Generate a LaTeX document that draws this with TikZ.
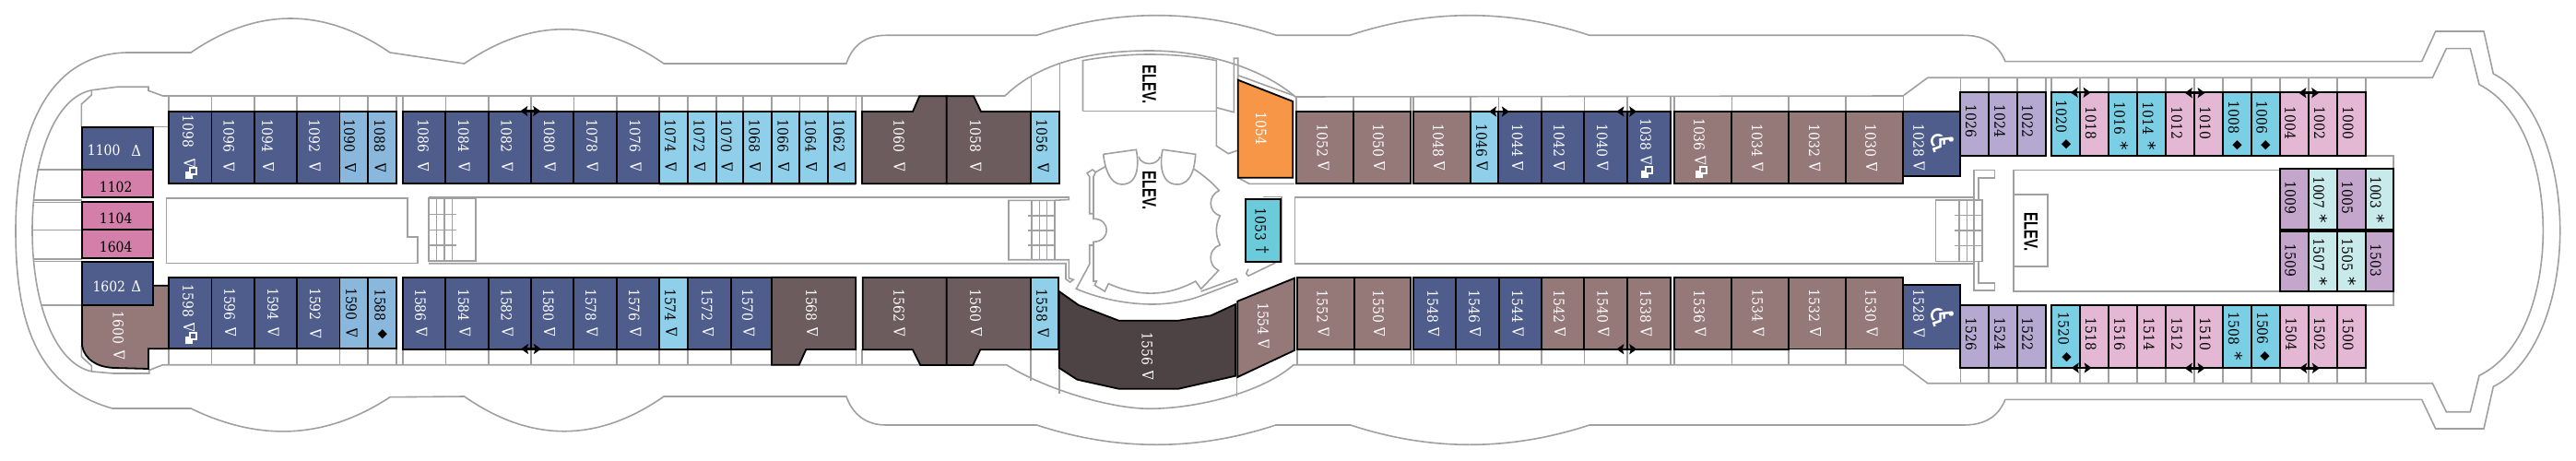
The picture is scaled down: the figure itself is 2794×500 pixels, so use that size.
\documentclass[tikz,border=0pt]{standalone}
\usepackage{fontspec}
\usetikzlibrary{arrows.meta}
\setmainfont[FakeStretch=0.9]{DejaVu Serif}
\newfontfamily\dejav{DejaVu Sans}
\newfontfamily\elevf[FakeStretch=0.71]{Liberation Sans}
\definecolor{navy}{HTML}{4E5D8C}
\definecolor{blueA}{HTML}{8AB8DC}
\definecolor{skyB}{HTML}{90CFE9}
\definecolor{taupe}{HTML}{6D5C5D}
\definecolor{darkT}{HTML}{4E4344}
\definecolor{rose}{HTML}{957878}
\definecolor{orangeC}{HTML}{F79646}
\definecolor{tealC}{HTML}{6CCBDA}
\definecolor{lav}{HTML}{B5A9D1}
\definecolor{pinkC}{HTML}{E4B7D4}
\definecolor{cyanC}{HTML}{7BCFE4}
\definecolor{paleC}{HTML}{C8EAEA}
\definecolor{purpC}{HTML}{C4A6CD}
\definecolor{magC}{HTML}{D37FA9}
\definecolor{railC}{HTML}{A0A0A3}
\tikzset{
 rail/.style={draw=railC,line width=1.6pt,line join=miter},
 roomb/.style={draw=black,line width=1.8pt,line join=miter},
 roomn/.style={roomb,inner sep=0pt,outer sep=0pt},
 numf/.style={inner sep=0pt,font=\fontsize{15.5}{15.5}\selectfont},
 vnum/.style={numf,rotate=-90},
 trif/.style={inner sep=0pt,font=\fontsize{16.5}{16.5}\selectfont,rotate=90},
 htrif/.style={inner sep=0pt,font=\fontsize{16.5}{16.5}\selectfont},
 diaf/.style={inner sep=0pt,font=\dejav\fontsize{13.5}{13.5}\selectfont,rotate=-90},
 astf/.style={inner sep=0pt,font=\dejav\fontsize{19}{19}\selectfont,rotate=-90},
 wheelf/.style={inner sep=0pt,font=\dejav\fontsize{34}{34}\selectfont,rotate=-90,text=white},
 elevn/.style={inner sep=0pt,rotate=-90,font=\elevf\bfseries\fontsize{21}{21}\selectfont},
 dblar/.style={line width=2.4pt,{Stealth[length=8pt,width=11pt,inset=1.5pt]}-{Stealth[length=8pt,width=11pt,inset=1.5pt]}},
}
% num, x1, x2, y1, y2, fill, text colour, label x, label y
\newcommand{\mybox}[6]{%
 \node[roomn,fill=#6,minimum width={(#3)-(#2)},minimum height={(#5)-(#4)}] (r#1) at ({((#2)+(#3))/2},{((#4)+(#5))/2}) {};}
\newcommand{\mycab}[9]{\mybox{#1}{#2}{#3}{#4}{#5}{#6}%
 \node[vnum,text=#7] (n#1) at (#8,#9) {#1};}
\newcommand{\mylab}[4]{\node[vnum,text=#4] (n#1) at (#2,#3) {#1};}
\newcommand{\myhlab}[4]{\node[numf,text=#4] (n#1) at (#2,#3) {#1};}
\newcommand{\mytri}[4]{\node[trif,text=#4] (t#1) at (#2,#3) {Δ};}
\newcommand{\myhtri}[4]{\node[htrif,text=#4] (t#1) at (#2,#3) {Δ};}
\newcommand{\mydia}[4]{\node[diaf,text=#4] (d#1) at (#2,#3) {◆};}
\newcommand{\myast}[3]{\node[astf,text=black] (a#1) at ({(#2)-3},#3) {*};}
% x, y, cabin colour: two overlapping squares
\newcommand{\mysq}[3]{\fill[white] ({(#1)-6.5},{(#2)-2}) rectangle ({(#1)+1.5},{(#2)+6.5});
 \draw[white,fill=#3,line width=1.8pt] ({(#1)-1.5},{(#2)-5.5}) rectangle ({(#1)+5.5},{(#2)+1.5});}
\newcommand{\mydbl}[3]{\coordinate (dl#1) at ({(#2)-11},#3); \coordinate (dr#1) at ({(#2)+11},#3); \draw[dblar] (dl#1) -- (dr#1);}
\begin{document}
\begin{tikzpicture}[x=1pt,y=-1pt]
\useasboundingbox (0,0) rectangle (2794,500);
% ---------- outer hull
\draw[rail] (2626.7,66.7) -- (2175,66.7) .. controls (2170,55) and (2160,38.3) .. (2130,38.3)
 -- (1724,38.3) .. controls (1637,9.5) and (1551,9.5) .. (1463.8,38.3)
 -- (1384.7,38.3) .. controls (1298,9.5) and (1211,9.5) .. (1124.5,38.3)
 -- (961,38.3) .. controls (940,38.3) and (925,48) .. (917.9,69)
 -- (720,69) .. controls (648,19.3) and (575.7,19.3) .. (503.6,69)
 -- (423,57) .. controls (351,7.7) and (279,7.7) .. (207,57)
 -- (140,57) .. controls (60,57) and (17,130) .. (17,250)
 .. controls (17,350) and (40,420) .. (122,443)
 -- (207,443) .. controls (279,478) and (351,478) .. (423,430.7)
 -- (503.6,430) .. controls (575.7,480.3) and (648,480.3) .. (720,430)
 -- (917.9,430) .. controls (925,450) and (940,461) .. (961,461)
 -- (1124.5,461) .. controls (1211,489.4) and (1298,489.4) .. (1383.7,461)
 -- (1464.8,461) .. controls (1551,489.4) and (1637,489.4) .. (1724,461)
 -- (2130,461) .. controls (2160,461) and (2170,445) .. (2175,433.3)
 -- (2626.7,433.3) -- (2641.7,465) -- (2694,465) -- (2704.3,419.3)
 .. controls (2750,397) and (2776.7,325) .. (2776.7,250)
 .. controls (2776.7,175) and (2750,103) .. (2704.3,80)
 -- (2694,34) -- (2641.7,34) -- (2626.7,66.7);
% ---------- inner deck edge
\draw[rail] (2090.7,84.3) -- (2638.3,84.3) -- (2653.3,52.7) -- (2679.3,52.7) -- (2689,91.7)
 .. controls (2735,115) and (2758.3,180) .. (2758.3,250)
 .. controls (2758.3,320) and (2735,385) .. (2689,407.3)
 -- (2679.3,446.7) -- (2653.3,446.7) -- (2638.3,415.7) -- (2090.7,415.7) -- (2064,395.7)
 -- (1403,395.7) .. controls (1370,425) and (1300,443) .. (1247,443.3)
 .. controls (1200,443) and (1130,420) .. (1091.7,395.7)
 -- (176.7,395.7) -- (161.7,401.5) -- (161.7,405) -- (123,405) -- (100,403)
 .. controls (60,395) and (35,330) .. (35,250)
 .. controls (35,170) and (60,105) .. (100,97.7)
 -- (126.7,94.3) -- (161,94.3) -- (161,98.3) -- (176.7,104)
 -- (1090,104) .. controls (1130,65) and (1190,55) .. (1247,55)
 .. controls (1310,55) and (1370,75) .. (1405,105)
 -- (2064,104) -- (2090.7,84.3);
% ---------- aft details
\draw[rail] (99.3,98.3) -- (99.3,103) -- (88.3,113) -- (88.3,137.7);
\draw[rail] (88.3,375) -- (88.3,386.7) -- (99.3,396.7) -- (99.3,403);
\foreach \yy/\xx in {184/40,216.7/36,219.3/36,249.3/35,280.7/36,283.3/36,331/45}
 \draw[rail] (\xx,\yy) -- (89,\yy);
\draw[rail] (165.7,137.7) -- (183,137.7);
% ---------- corridor ticks
\foreach \xx in {183,229.5,276,322,368.5,399,430,436.7,483.3,529.7,576,622.3,668.7,715,745.7,776.7,806,836.7,867.3,898,928.3,935,1118.3,1149.3,1406,1468,1530,1532.7,1595,1625.3,1671.7,1718.3,1765,1811.7,1816,1878.3,1940,2002,2064.3}
 \draw[rail] (\xx,104) -- (\xx,121);
\foreach \xx in {183,229.5,276,322,368.5,399,430,436.7,483.3,529.7,576,622.3,668.7,715,745.7,792.7,837,928.3,935,1117.7,1406.7,1468.7,1530.3,1533.3,1579.3,1625.7,1671.7,1718.3,1765,1811.7,1816,1878.3,1940,2002,2064.3}
 \draw[rail] (\xx,379) -- (\xx,395.7);
\foreach \xx in {2126.3,2156.7,2187.7,2218.7,2225,2256,2287,2318,2349,2380,2411,2441.7,2472.7,2504,2534.7,2565.7}{
 \draw[rail] (\xx,84.3) -- (\xx,100.5);
 \draw[rail] (\xx,399) -- (\xx,415.7);}
\draw[rail] (715,199.8) -- (928.3,199.8);
% ---------- centre walls
\draw[rail] (1118.3,81.7) -- (1118.3,121);
\draw[rail] (1149.3,67.7) -- (1149.3,121);
\draw[rail] (1117.7,379.3) -- (1117.7,412.7);
\draw[rail] (1149,399) -- (1149,426.7);
\draw[rail,line width=1.1pt] (1341.7,409) -- (1341.7,430);
% ---------- corridor blocks
\draw[rail] (180.3,215) -- (441.7,215) -- (441.7,256.7) -- (452.7,256.7) -- (452.7,285.3) -- (180.3,285.3) -- cycle;
\draw[rail] (465,215) -- (516,215) -- (516,282.7) -- (465,282.7) -- cycle;
\draw[rail] (465,214) -- (1159.3,214) -- (1159.3,216.5) -- (1144,217.3);
\draw[rail] (465,285.7) -- (1156,285.7) -- (1156,302.7) -- (1160.7,306) -- (1164.3,303.3) -- (1159.3,301.7) -- (1159.3,281.7) -- (1094,281.7) -- (1094,217.3) -- (1144,217.3) -- (1144,281.7);
\foreach \xx in {473.3,482,490.3} \draw[rail,line width=1.3pt] (\xx,215) -- (\xx,282.7);
\foreach \yy in {232.7,249.3,266} \draw[rail,line width=1.3pt] (465,\yy) -- (495,\yy);
\foreach \xx in {1119,1127.3,1135.7} \draw[rail,line width=1.3pt] (\xx,217.3) -- (\xx,281.7);
\foreach \yy in {234,250,266} \draw[rail,line width=1.3pt] (1115,\yy) -- (1144,\yy);
\draw[rail] (1404.3,214) rectangle (2141,285.7);
\draw[rail] (2099.3,216.7) rectangle (2150,283.3);
\foreach \xx in {2125,2133.3,2141.7} \draw[rail,line width=1.3pt] (\xx,216.7) -- (\xx,283.3);
\foreach \yy in {233.3,250,266.7} \draw[rail,line width=1.3pt] (2120,\yy) -- (2150,\yy);
\draw[rail] (2141,215) -- (2141,184.3) -- (2163.3,184.3) -- (2163.3,192.7) -- (2146,192.7) -- (2146,216);
\draw[rail] (2141,283.3) -- (2141,315) -- (2163.3,315) -- (2163.3,306.7) -- (2146,306.7) -- (2146,283.3);
\draw[rail] (2595.7,183.3) -- (2595.7,168.7) -- (2565.7,168.7);
\draw[rail] (2595.7,316) -- (2595.7,331) -- (2565.7,331);
\draw[rail] (2472.7,184.3) -- (2184,184.3) -- (2184,316) -- (2472.7,316);
\draw[rail] (2184,211) rectangle (2221,288.7);
% ---------- elevator lobby fore
\draw[rail] (1174.5,120.7) -- (1174.5,65.7) .. controls (1200,61) and (1225,59) .. (1247,59)
 .. controls (1270,59) and (1295,61) .. (1319.4,65.7) -- (1319.4,158.3) -- (1332.3,166.7) -- (1341.7,163.3);
\draw[rail] (1174.5,120.7) -- (1319.4,120.7);
\draw[rail] (1319.4,116.7) -- (1338.3,121.7) -- (1338.3,63.3) -- (1342.7,63.3) -- (1342.7,86.7);
\draw[rail] (1342.7,81.7) -- (1404,104);
\draw[rail] (1342.7,192.7) -- (1355,199.3) -- (1404,199.3);
\draw[rail] (1370,213.3) -- (1390,213.3) -- (1390,285);
\draw[rail] (1383.3,285) -- (1354,299.3) -- (1351.7,296.7) -- (1354,291.7);
% ---------- atrium
\draw[rail] (1196.7,167.3) -- (1232.3,162.3) .. controls (1235,175) and (1236,200) .. (1216.7,200) .. controls (1203,200) and (1198,180) .. (1196.7,167.3);
\draw[rail] (1261,162.3) -- (1296.7,167.3) .. controls (1296,180) and (1293,200) .. (1276.7,200) .. controls (1258,200) and (1258,175) .. (1261,162.3);
\draw[rail] (1235,170) .. controls (1238,180) and (1255,180) .. (1258.3,170);
\draw[rail] (1199,180.7) -- (1188.3,186.7) -- (1185,184) -- (1179,187.7) -- (1181.7,191.7) -- (1181.7,231.7) -- (1186,231.7) -- (1186,191.7) -- (1188.3,186.7);
\draw[rail] (1186,231.7) -- (1186,237.3) .. controls (1205,237) and (1205,262) .. (1186,262.3) -- (1186,305) -- (1189.3,305) -- (1187.3,309.3) -- (1198.3,316) -- (1202.3,307.7)
 .. controls (1235,322) and (1265,322) .. (1296.7,305) -- (1302.7,313.3) -- (1321.7,293.3)
 .. controls (1310,288) and (1310,270) .. (1323.3,265.7) .. controls (1318,255) and (1318,245) .. (1323.3,234)
 .. controls (1310,230) and (1310,212) .. (1322.3,206.7) .. controls (1315,198) and (1305,190) .. (1295,183.3);
\draw[rail] (1186,266) -- (1181.7,266) -- (1181.7,286.7) -- (1167.3,313.3)
 .. controls (1195,325) and (1225,330) .. (1250,330) .. controls (1270,330) and (1290,326) .. (1305,320)
 -- (1342.3,305.7) -- (1340.7,302.3) -- (1302.7,316);
% ---------- aft block
\mybox{1100}{89}{165.7}{137.7}{184}{navy}
\myhlab{1100}{112.7}{163.3}{white}\myhtri{1100}{147.7}{163.3}{white}
\mybox{1102}{89}{165.7}{184}{214.3}{magC}\myhlab{1102}{125.7}{203.3}{black}
\mybox{1104}{89}{165.7}{219.3}{249.3}{magC}\myhlab{1104}{125.7}{237.3}{black}
\mybox{1604}{89}{165.7}{249.3}{280}{magC}\myhlab{1604}{125.7}{268.3}{black}
\draw[roomb,fill=rose] (89,330.7) -- (165.7,330.7) -- (165.7,309.7) -- (183,309.7) -- (183,378.3) -- (161,378.3) -- (161,400) -- (123.3,399) .. controls (105,398) and (92,390) .. (89,375) -- cycle;
\mylab{1600}{128.3}{355.7}{white}\mytri{1600}{129.3}{385}{white}
\mybox{1602}{89}{165.7}{284.3}{330.7}{navy}
\myhlab{1602}{118.3}{310.7}{white}\myhtri{1602}{147.7}{310}{white}
% ---------- top row, aft section
\mycab{1098}{183}{229.5}{121}{198.7}{navy}{white}{204}{142.5}\mytri{1098}{205.7}{176.7}{white}\mysq{207.3}{187.7}{navy}
\mycab{1096}{229.5}{276}{121}{198.7}{navy}{white}{248.3}{147.5}\mytri{1096}{248.3}{181}{white}
\mycab{1094}{276}{322}{121}{198.7}{navy}{white}{290}{147.5}\mytri{1094}{291}{181}{white}
\mycab{1092}{322}{368.5}{121}{198.7}{navy}{white}{341}{147.5}\mytri{1092}{341.7}{181}{white}
\mycab{1090}{368.5}{399}{121}{198.7}{blueA}{black}{379}{147.5}\mytri{1090}{380}{181.7}{black}
\mycab{1088}{399}{430}{121}{198.7}{blueA}{black}{411.7}{147.5}\mytri{1088}{412.7}{181.7}{black}
\mycab{1086}{436.7}{483.3}{121}{198.7}{navy}{white}{459}{147.5}\mytri{1086}{459}{180.7}{white}
\mycab{1084}{483.3}{529.7}{121}{198.7}{navy}{white}{502.7}{147.5}\mytri{1084}{503.7}{180.7}{white}
\mycab{1082}{529.7}{576}{121}{198.7}{navy}{white}{549.3}{147.5}\mytri{1082}{550.3}{180.7}{white}
\mycab{1080}{576}{622.3}{121}{198.7}{navy}{white}{595.7}{147.5}\mytri{1080}{596.7}{180.7}{white}
\mycab{1078}{622.3}{668.7}{121}{198.7}{navy}{white}{642}{147.5}\mytri{1078}{642.7}{180.7}{white}
\mycab{1076}{668.7}{715}{121}{198.7}{navy}{white}{688.7}{147.5}\mytri{1076}{689.7}{180.7}{white}
\mycab{1074}{715}{745.7}{121}{198.7}{skyB}{black}{727}{147.5}\mytri{1074}{727.7}{180.7}{black}
\mycab{1072}{745.7}{776.7}{121}{198.7}{skyB}{black}{758.3}{147.5}\mytri{1072}{759}{180.7}{black}
\mycab{1070}{776.7}{806}{121}{198.7}{skyB}{black}{787.7}{147.5}\mytri{1070}{788.7}{180.7}{black}
\mycab{1068}{806}{836.7}{121}{198.7}{skyB}{black}{818.3}{147.5}\mytri{1068}{819}{180.7}{black}
\mycab{1066}{836.7}{867.3}{121}{198.7}{skyB}{black}{849.3}{147.5}\mytri{1066}{850}{180.7}{black}
\mycab{1064}{867.3}{898}{121}{198.7}{skyB}{black}{879.3}{147.5}\mytri{1064}{880}{180.7}{black}
\mycab{1062}{898}{928.3}{121}{198.7}{skyB}{black}{910}{147.5}\mytri{1062}{910.7}{180.7}{black}
% ---------- top row, midship
\draw[roomb,fill=taupe] (935,121) -- (990,121) -- (997.3,104.3) -- (1026.7,104.3) -- (1026.7,199.3) -- (935,199.3) -- cycle;
\mylab{1060}{975}{147.3}{white}\mytri{1060}{975.7}{180.7}{white}
\draw[roomb,fill=taupe] (1026.7,104.3) -- (1056,104.3) -- (1064,121) -- (1118.3,121) -- (1118.3,199.3) -- (1026.7,199.3) -- cycle;
\mylab{1058}{1058}{147.3}{white}\mytri{1058}{1058.3}{180.7}{white}
\mycab{1056}{1118.3}{1149.3}{121}{199.3}{skyB}{black}{1130}{147.3}\mytri{1056}{1131.7}{181.7}{black}
\draw[roomb,fill=orangeC] (1342.7,86.7) -- (1402.3,110) -- (1402.3,192.7) -- (1342.7,192.7) -- cycle;
\mylab{1054}{1367.7}{139.3}{white}
\mycab{1053}{1350.7}{1389}{215.7}{284.3}{tealC}{black}{1367.3}{243.3}
\node[inner sep=0pt,rotate=-90,font=\fontsize{17}{17}\selectfont] (g1053) at (1369.3,271) {†};
\mycab{1052}{1406}{1468}{121}{198.7}{rose}{white}{1434.3}{152.5}\mytri{1052}{1435.7}{180}{white}
\mycab{1050}{1468}{1530}{121}{198.7}{rose}{white}{1495}{152.5}\mytri{1050}{1496}{180}{white}
\mycab{1048}{1532.7}{1595}{121}{198.7}{rose}{white}{1560}{152.5}\mytri{1048}{1561}{180}{white}
\mycab{1046}{1595}{1625.3}{121}{198.7}{skyB}{black}{1607}{152.5}\mytri{1046}{1607.7}{180}{black}
\mycab{1044}{1625.3}{1671.7}{121}{198.7}{navy}{white}{1645.7}{152.5}\mytri{1044}{1646}{180}{white}
\mycab{1042}{1671.7}{1718.3}{121}{198.7}{navy}{white}{1691}{152.5}\mytri{1042}{1691}{180}{white}
\mycab{1040}{1718.3}{1765}{121}{198.7}{navy}{white}{1737.7}{152.5}\mytri{1040}{1738.3}{180}{white}
\mycab{1038}{1765}{1811.7}{121}{198.7}{navy}{white}{1785}{146}\mytri{1038}{1785.7}{174}{white}\mysq{1786.7}{186.7}{navy}
\mycab{1036}{1816}{1878.3}{121}{198.7}{rose}{white}{1843}{146}\mytri{1036}{1844.3}{174}{white}\mysq{1845.3}{186.7}{rose}
\mycab{1034}{1878.3}{1940}{121}{198.7}{rose}{white}{1905.7}{152.5}\mytri{1034}{1906.3}{180.7}{white}
\mycab{1032}{1940}{2002}{121}{199.3}{rose}{white}{1967.7}{152.5}\mytri{1032}{1968.3}{180.7}{white}
\mycab{1030}{2002}{2064.3}{121}{199.3}{rose}{white}{2029}{152.5}\mytri{1030}{2030}{180.7}{white}
\mycab{1028}{2064.3}{2126.3}{121}{190.7}{navy}{white}{2081}{152.5}\mytri{1028}{2081.7}{180}{white}
\node[wheelf] (w1028) at (2106.7,156) {♿};
% ---------- top row, fore section
\mycab{1026}{2126.3}{2156.7}{100.3}{168.7}{lav}{black}{2137.7}{131.3}
\mycab{1024}{2156.7}{2187.7}{100.3}{168.7}{lav}{black}{2169}{131.3}
\mycab{1022}{2187.7}{2218.7}{100.3}{168.7}{lav}{black}{2199}{131.3}
\mycab{1020}{2225}{2256}{100.3}{168.7}{cyanC}{black}{2235.7}{126.7}\mydia{1020}{2241}{156.7}{black}
\mycab{1018}{2256}{2287}{100.3}{168.7}{pinkC}{black}{2267.7}{133.7}
\mycab{1016}{2287}{2318}{100.3}{168.7}{cyanC}{black}{2299}{128.2}\myast{1016}{2304.3}{158.3}
\mycab{1014}{2318}{2349}{100.3}{168.7}{cyanC}{black}{2329.7}{128.2}\myast{1014}{2335}{158.3}
\mycab{1012}{2349}{2380}{100.3}{168.7}{pinkC}{black}{2361}{133.3}
\mycab{1010}{2380}{2411}{100.3}{168.7}{pinkC}{black}{2391.7}{133.3}
\mycab{1008}{2411}{2441.7}{100.3}{168.7}{cyanC}{black}{2422.7}{127.3}\mydia{1008}{2426.7}{157.7}{black}
\mycab{1006}{2441.7}{2472.7}{100.3}{168.7}{cyanC}{black}{2453.3}{127.3}\mydia{1006}{2457.3}{157.7}{black}
\mycab{1004}{2472.7}{2504}{100.3}{168.7}{pinkC}{black}{2484}{133.3}
\mycab{1002}{2504}{2534.7}{100.3}{168.7}{pinkC}{black}{2515.7}{133.3}
\mycab{1000}{2534.7}{2565.7}{100.3}{168.7}{pinkC}{black}{2546.7}{133.3}
% ---------- inner fore block
\fill[black!60] (2472.7,248) rectangle (2595.7,252);
\mycab{1009}{2472.7}{2504}{183.3}{248.7}{purpC}{black}{2484.3}{214.3}
\mycab{1007}{2504}{2534.7}{183.3}{248.7}{paleC}{black}{2515}{209}\myast{1007}{2520.3}{237.3}
\mycab{1005}{2534.7}{2565.7}{183.3}{248.7}{purpC}{black}{2546}{214.3}
\mycab{1003}{2565.7}{2595.7}{183.3}{248.7}{paleC}{black}{2576.7}{209}\myast{1003}{2582.3}{237.3}
\mycab{1509}{2472.7}{2504}{251.3}{316}{purpC}{black}{2484.3}{282.3}
\mycab{1507}{2504}{2534.7}{251.3}{316}{paleC}{black}{2515}{276.7}\myast{1507}{2520.3}{305}
\mycab{1505}{2534.7}{2565.7}{251.3}{316}{paleC}{black}{2546}{276.7}\myast{1505}{2551.7}{305}
\mycab{1503}{2565.7}{2595.7}{251.3}{316}{purpC}{black}{2576.7}{282.3}
% ---------- bottom row, aft section
\mycab{1598}{183}{229.5}{301}{378.3}{navy}{white}{204}{326.7}\mytri{1598}{205}{355}{white}\mysq{207.3}{366.7}{navy}
\mycab{1596}{229.5}{276}{301}{378.3}{navy}{white}{249}{330}\mytri{1596}{250}{360}{white}
\mycab{1594}{276}{322}{301}{378.3}{navy}{white}{296}{330}\mytri{1594}{296.7}{360}{white}
\mycab{1592}{322}{368.5}{301}{378.3}{navy}{white}{341.7}{330}\mytri{1592}{342.3}{361.7}{white}
\mycab{1590}{368.5}{399}{301}{378.3}{blueA}{black}{381}{330}\mytri{1590}{381.7}{361}{black}
\mycab{1588}{399}{430}{301}{378.3}{blueA}{black}{412.3}{331}\mydia{1588}{415}{362.3}{black}
\mycab{1586}{436.7}{483.3}{301}{379}{navy}{white}{456}{331}\mytri{1586}{457.3}{360}{white}
\mycab{1584}{483.3}{529.7}{301}{379}{navy}{white}{502.7}{331}\mytri{1584}{504.3}{360}{white}
\mycab{1582}{529.7}{576}{301}{379}{navy}{white}{549.3}{331}\mytri{1582}{550.7}{360}{white}
\mycab{1580}{576}{622.3}{301}{379}{navy}{white}{594.7}{331}\mytri{1580}{596}{360}{white}
\mycab{1578}{622.3}{668.7}{301}{379}{navy}{white}{640.7}{331}\mytri{1578}{642.3}{360}{white}
\mycab{1576}{668.7}{715}{301}{379}{navy}{white}{687.7}{331}\mytri{1576}{689.3}{360}{white}
\mycab{1574}{715}{745.7}{301}{379}{skyB}{black}{727}{331}\mytri{1574}{728.3}{360}{black}
\mycab{1572}{745.7}{792.7}{301}{379}{navy}{white}{766.7}{331}\mytri{1572}{768}{360}{white}
\mycab{1570}{792.7}{837}{301}{379}{navy}{white}{810.7}{331}\mytri{1570}{812.3}{360}{white}
\draw[roomb,fill=taupe] (837,300.7) -- (928.3,300.7) -- (928.3,379) -- (874.3,379) -- (866.7,395.7) -- (837,395.7) -- cycle;
\mylab{1568}{880}{331}{white}\mytri{1568}{881}{360}{white}
% ---------- bottom row, midship
\draw[roomb,fill=taupe] (935.7,301) -- (1026.7,301) -- (1026.7,396) -- (998.3,396) -- (990,379.3) -- (935.7,379.3) -- cycle;
\mylab{1562}{975}{331.7}{white}\mytri{1562}{975.7}{360}{white}
\draw[roomb,fill=taupe] (1026.7,301) -- (1118.3,301) -- (1118.3,379.3) -- (1063.3,379.3) -- (1055.3,396) -- (1026.7,396) -- cycle;
\mylab{1560}{1058}{331.7}{white}\mytri{1560}{1059}{360}{white}
\mycab{1558}{1118.3}{1148.3}{301}{379.3}{skyB}{black}{1130}{331.7}\mytri{1558}{1131.7}{360.7}{black}
\draw[roomb,fill=darkT] (1148.7,316) -- (1170,331) -- (1213.3,347.7) -- (1278.3,347.7) -- (1313.3,342.3) -- (1340,330) -- (1340,407.7) -- (1278.3,421.7) -- (1213.3,421.7) -- (1168.3,411.7) -- (1148.7,399) -- cycle;
\mylab{1556}{1244.3}{378.3}{white}\mytri{1556}{1245}{406.7}{white}
\draw[roomb,fill=rose] (1342.3,326.7) -- (1404,301.7) -- (1404,380) -- (1342.3,409) -- cycle;
\mylab{1554}{1370}{346}{white}\mytri{1554}{1370.7}{373.3}{white}
\mycab{1552}{1406.7}{1468.7}{300.7}{379}{rose}{white}{1434.3}{332.3}\mytri{1552}{1435.7}{360}{white}
\mycab{1550}{1468.7}{1530.3}{300.7}{379}{rose}{white}{1495}{332.3}\mytri{1550}{1496}{360}{white}
\mycab{1548}{1533.3}{1579.3}{300.7}{379}{navy}{white}{1554}{332.3}\mytri{1548}{1555}{360}{white}
\mycab{1546}{1579.3}{1625.7}{300.7}{379}{navy}{white}{1599}{332.3}\mytri{1546}{1600}{360}{white}
\mycab{1544}{1625.7}{1671.7}{300.7}{379}{navy}{white}{1645.7}{332.3}\mytri{1544}{1646.7}{360}{white}
\mycab{1542}{1671.7}{1718.3}{300.7}{379}{rose}{white}{1691}{332.3}\mytri{1542}{1692}{360}{white}
\mycab{1540}{1718.3}{1765}{300.7}{379}{rose}{white}{1738.3}{332.3}\mytri{1540}{1739.3}{360}{white}
\mycab{1538}{1765}{1811.7}{300.7}{379}{rose}{white}{1785}{332.3}\mytri{1538}{1785.7}{360}{white}
\mycab{1536}{1816}{1878.3}{300.7}{379}{rose}{white}{1843}{332.3}\mytri{1536}{1844.3}{360}{white}
\mycab{1534}{1878.3}{1940}{300.7}{379}{rose}{white}{1906.3}{331.7}\mytri{1534}{1907.3}{360}{white}
\mycab{1532}{1940}{2002}{300.7}{378.5}{rose}{white}{1967.7}{331.7}\mytri{1532}{1969}{360}{white}
\mycab{1530}{2002}{2064.3}{300.7}{378.5}{rose}{white}{2029}{331.7}\mytri{1530}{2030.7}{360}{white}
\mycab{1528}{2064.3}{2126.3}{309.3}{378.5}{navy}{white}{2081}{331.7}\mytri{1528}{2081.7}{360.7}{white}
\node[wheelf] (w1528) at (2107.3,344.3) {♿};
% ---------- bottom row, fore section
\mycab{1526}{2126.3}{2156.7}{331}{399}{lav}{black}{2137.7}{362.3}
\mycab{1524}{2156.7}{2187.7}{331}{399}{lav}{black}{2169}{362.3}
\mycab{1522}{2187.7}{2218.7}{331}{399}{lav}{black}{2199}{362.3}
\mycab{1520}{2225}{2256}{331}{399}{cyanC}{black}{2238.3}{356.7}\mydia{1520}{2241.7}{387.3}{black}
\mycab{1518}{2256}{2287}{331}{399}{pinkC}{black}{2267.7}{362.3}
\mycab{1516}{2287}{2318}{331}{399}{pinkC}{black}{2299}{362.3}
\mycab{1514}{2318}{2349}{331}{399}{pinkC}{black}{2330.7}{362.3}
\mycab{1512}{2349}{2380}{331}{399}{pinkC}{black}{2361}{362.7}
\mycab{1510}{2380}{2411}{331}{399}{pinkC}{black}{2391.7}{362.7}
\mycab{1508}{2411}{2441.7}{331}{399}{cyanC}{black}{2422.7}{356.7}\myast{1508}{2428.3}{386.7}
\mycab{1506}{2441.7}{2472.7}{331}{399}{cyanC}{black}{2454}{356}\mydia{1506}{2456.7}{386.7}{black}
\mycab{1504}{2472.7}{2504}{331}{399}{pinkC}{black}{2485}{362.7}
\mycab{1502}{2504}{2534.7}{331}{399}{pinkC}{black}{2515.7}{362.7}
\mycab{1500}{2534.7}{2565.7}{331}{399}{pinkC}{black}{2546.7}{362.7}
% ---------- elevators
\node[elevn] (e1) at (1246.7,91.7) {ELEV.};
\node[elevn] (e2) at (1246.7,206.7) {ELEV.};
\node[elevn] (e3) at (2202.7,251.7) {ELEV.};
% ---------- connecting-door arrows
\mydbl{a}{575.3}{120.5}
\mydbl{b}{576}{378.5}
\mydbl{c}{1626}{121}
\mydbl{d}{1764.3}{121}
\mydbl{e}{1764.3}{378.7}
\mydbl{f}{2256.7}{100.3}
\mydbl{g}{2257.7}{399}
\mydbl{h}{2380.7}{100.7}
\mydbl{i}{2504.3}{100.7}
\mydbl{j}{2380.7}{399.3}
\mydbl{k}{2505}{399.3}
\end{tikzpicture}
\end{document}
